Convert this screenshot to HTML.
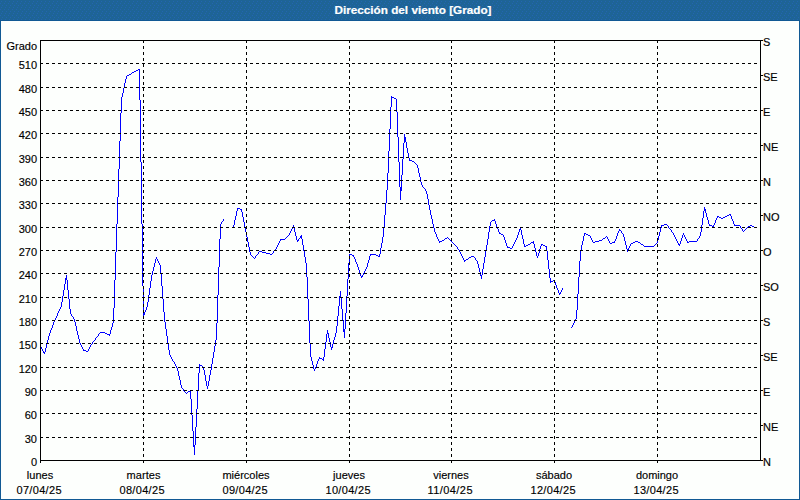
<!DOCTYPE html>
<html><head><meta charset="utf-8"><title>Dirección del viento [Grado]</title>
<style>
html,body{margin:0;padding:0;background:#fff;}
body{width:800px;height:500px;overflow:hidden;font-family:"Liberation Sans",sans-serif;}
svg{display:block;}
text{font-family:"Liberation Sans",sans-serif;font-size:11px;fill:#000;stroke:#000;stroke-width:0.15px;}
.t{font-weight:bold;fill:#fff;stroke:#fff;stroke-width:0.2px;}
</style></head><body>
<svg width="800" height="500" viewBox="0 0 800 500">
<defs><pattern id="dz" width="4" height="6" patternUnits="userSpaceOnUse"><rect width="4" height="6" fill="#1E6496"/><rect x="1" y="1" width="1" height="1" fill="#2365B1"/><rect x="0" y="3" width="1" height="1" fill="#2365B1"/><rect x="2" y="5" width="1" height="1" fill="#2365B1"/></pattern></defs>
<rect x="0" y="0" width="800" height="500" fill="#115994"/>
<rect x="0" y="0" width="800" height="20" fill="url(#dz)" shape-rendering="crispEdges"/>
<rect x="1" y="21" width="798" height="478" fill="#FDFFFD"/>
<text class="t" x="334.5" y="14" textLength="157" lengthAdjust="spacingAndGlyphs">Dirección del viento [Grado]</text>
<g shape-rendering="crispEdges" fill="#0000FF" stroke="none">
<path d="M40 346h1v1h-1zM41 347h1v2h-1zM42 349h1v2h-1zM43 351h1v2h-1zM44 352h1v2h-1zM45 348h1v4h-1zM46 344h1v4h-1zM47 340h1v4h-1zM48 336h1v4h-1zM49 333h1v3h-1zM50 330h1v3h-1zM51 328h1v2h-1zM52 325h1v3h-1zM53 322h1v3h-1zM54 320h1v2h-1zM55 318h1v2h-1zM56 316h1v2h-1zM57 313h1v3h-1zM58 311h1v2h-1zM59 309h1v2h-1zM60 307h1v2h-1zM61 302h1v5h-1zM62 296h1v6h-1zM63 290h1v6h-1zM64 284h1v6h-1zM65 278h1v6h-1zM66 275h1v5h-1zM67 280h1v10h-1zM68 290h1v9h-1zM69 299h1v10h-1zM70 309h1v5h-1zM71 314h1v2h-1zM72 316h1v1h-1zM73 317h1v2h-1zM74 319h1v3h-1zM75 322h1v4h-1zM76 326h1v5h-1zM77 331h1v4h-1zM78 335h1v4h-1zM79 339h1v4h-1zM80 343h1v2h-1zM81 345h1v2h-1zM82 347h1v2h-1zM83 349h1v2h-1zM84 350h1v1h-1zM85 350h1v1h-1zM86 351h1v1h-1zM87 351h1v1h-1zM88 349h1v2h-1zM89 347h1v2h-1zM90 345h1v2h-1zM91 344h1v1h-1zM92 342h1v2h-1zM93 341h1v1h-1zM94 340h1v1h-1zM95 338h1v2h-1zM96 337h1v1h-1zM97 336h1v1h-1zM98 334h1v2h-1zM99 333h1v1h-1zM100 332h1v1h-1zM101 332h1v1h-1zM102 332h1v1h-1zM103 332h1v1h-1zM104 332h1v1h-1zM105 333h1v1h-1zM106 333h1v1h-1zM107 334h1v1h-1zM108 334h1v1h-1zM109 334h1v2h-1zM110 330h1v4h-1zM111 327h1v3h-1zM112 323h1v4h-1zM113 308h1v15h-1zM114 280h1v28h-1zM115 252h1v28h-1zM116 224h1v28h-1zM117 197h1v27h-1zM118 169h1v28h-1zM119 141h1v28h-1zM120 113h1v28h-1zM121 97h1v16h-1zM122 93h1v4h-1zM123 88h1v5h-1zM124 83h1v5h-1zM125 79h1v4h-1zM126 76h1v3h-1zM127 75h1v1h-1zM128 75h1v1h-1zM129 74h1v1h-1zM130 74h1v1h-1zM131 73h1v1h-1zM132 72h1v1h-1zM133 72h1v1h-1zM134 71h1v1h-1zM135 71h1v1h-1zM136 70h1v1h-1zM137 70h1v1h-1zM138 69h1v1h-1zM139 69h1v31h-1zM140 100h1v62h-1zM141 162h1v62h-1zM142 224h1v62h-1zM143 286h1v31h-1zM144 312h1v3h-1zM145 310h1v2h-1zM146 307h1v3h-1zM147 302h1v5h-1zM148 295h1v7h-1zM149 288h1v7h-1zM150 281h1v7h-1zM151 275h1v6h-1zM152 271h1v4h-1zM153 267h1v4h-1zM154 263h1v4h-1zM155 259h1v4h-1zM156 257h1v2h-1zM157 259h1v2h-1zM158 261h1v2h-1zM159 263h1v2h-1zM160 265h1v8h-1zM161 273h1v13h-1zM162 286h1v13h-1zM163 299h1v13h-1zM164 312h1v10h-1zM165 322h1v7h-1zM166 329h1v7h-1zM167 336h1v7h-1zM168 343h1v7h-1zM169 350h1v5h-1zM170 355h1v2h-1zM171 357h1v2h-1zM172 359h1v2h-1zM173 361h1v1h-1zM174 362h1v2h-1zM175 364h1v2h-1zM176 366h1v2h-1zM177 368h1v3h-1zM178 371h1v5h-1zM179 376h1v4h-1zM180 380h1v5h-1zM181 385h1v3h-1zM182 388h1v1h-1zM183 389h1v2h-1zM184 391h1v1h-1zM185 392h1v1h-1zM186 393h1v1h-1zM187 392h1v1h-1zM188 391h1v1h-1zM189 391h1v1h-1zM190 390h1v9h-1zM191 399h1v16h-1zM192 415h1v16h-1zM193 431h1v16h-1zM194 445h1v10h-1zM195 427h1v18h-1zM196 409h1v18h-1zM197 391h1v18h-1zM198 373h1v18h-1zM199 364h1v9h-1zM200 365h1v1h-1zM201 365h1v1h-1zM202 366h1v1h-1zM203 367h1v3h-1zM204 370h1v5h-1zM205 375h1v6h-1zM206 381h1v5h-1zM207 386h1v3h-1zM208 381h1v5h-1zM209 375h1v6h-1zM210 370h1v5h-1zM211 364h1v6h-1zM212 358h1v6h-1zM213 352h1v6h-1zM214 346h1v6h-1zM215 340h1v6h-1zM216 323h1v17h-1zM217 295h1v28h-1zM218 267h1v28h-1zM219 239h1v28h-1zM220 224h1v15h-1zM221 222h1v2h-1zM222 221h1v1h-1zM223 219h1v2h-1zM233 225h1v3h-1zM234 220h1v5h-1zM235 216h1v4h-1zM236 211h1v5h-1zM237 208h1v3h-1zM238 208h1v1h-1zM239 208h1v1h-1zM240 209h1v1h-1zM241 209h1v3h-1zM242 212h1v5h-1zM243 217h1v5h-1zM244 222h1v5h-1zM245 227h1v5h-1zM246 232h1v5h-1zM247 237h1v5h-1zM248 242h1v5h-1zM249 247h1v5h-1zM250 252h1v3h-1zM251 255h1v1h-1zM252 256h1v1h-1zM253 257h1v1h-1zM254 258h1v1h-1zM255 256h1v2h-1zM256 255h1v1h-1zM257 254h1v1h-1zM258 252h1v2h-1zM259 251h1v1h-1zM260 251h1v1h-1zM261 251h1v1h-1zM262 252h1v1h-1zM263 252h1v1h-1zM264 252h1v1h-1zM265 252h1v1h-1zM266 253h1v1h-1zM267 253h1v1h-1zM268 253h1v1h-1zM269 253h1v1h-1zM270 254h1v1h-1zM271 254h1v1h-1zM272 253h1v1h-1zM273 251h1v2h-1zM274 250h1v1h-1zM275 249h1v1h-1zM276 247h1v2h-1zM277 245h1v2h-1zM278 243h1v2h-1zM279 241h1v2h-1zM280 239h1v2h-1zM281 239h1v1h-1zM282 239h1v1h-1zM283 239h1v1h-1zM284 239h1v1h-1zM285 238h1v1h-1zM286 237h1v1h-1zM287 236h1v1h-1zM288 235h1v1h-1zM289 233h1v2h-1zM290 231h1v2h-1zM291 229h1v2h-1zM292 227h1v2h-1zM293 225h1v3h-1zM294 228h1v4h-1zM295 232h1v4h-1zM296 236h1v4h-1zM297 240h1v2h-1zM298 239h1v2h-1zM299 238h1v1h-1zM300 236h1v2h-1zM301 235h1v4h-1zM302 239h1v6h-1zM303 245h1v6h-1zM304 251h1v6h-1zM305 257h1v6h-1zM306 263h1v14h-1zM307 277h1v22h-1zM308 299h1v22h-1zM309 321h1v22h-1zM310 343h1v14h-1zM311 357h1v4h-1zM312 361h1v4h-1zM313 365h1v4h-1zM314 369h1v2h-1zM315 367h1v2h-1zM316 364h1v3h-1zM317 361h1v3h-1zM318 359h1v2h-1zM319 357h1v2h-1zM320 358h1v1h-1zM321 358h1v1h-1zM322 359h1v1h-1zM323 357h1v4h-1zM324 349h1v8h-1zM325 342h1v7h-1zM326 334h1v8h-1zM327 330h1v4h-1zM328 333h1v5h-1zM329 338h1v4h-1zM330 342h1v5h-1zM331 347h1v3h-1zM332 344h1v4h-1zM333 340h1v4h-1zM334 337h1v3h-1zM335 333h1v4h-1zM336 326h1v7h-1zM337 316h1v10h-1zM338 306h1v10h-1zM339 296h1v10h-1zM340 291h1v6h-1zM341 297h1v12h-1zM342 309h1v11h-1zM343 320h1v12h-1zM344 329h1v9h-1zM345 313h1v16h-1zM346 296h1v17h-1zM347 279h1v17h-1zM348 263h1v16h-1zM349 254h1v9h-1zM350 254h1v1h-1zM351 254h1v1h-1zM352 255h1v1h-1zM353 255h1v2h-1zM354 257h1v2h-1zM355 259h1v3h-1zM356 262h1v2h-1zM357 264h1v3h-1zM358 267h1v3h-1zM359 270h1v3h-1zM360 273h1v3h-1zM361 276h1v2h-1zM362 275h1v2h-1zM363 273h1v2h-1zM364 271h1v2h-1zM365 269h1v2h-1zM366 267h1v2h-1zM367 263h1v4h-1zM368 260h1v3h-1zM369 256h1v4h-1zM370 254h1v2h-1zM371 254h1v1h-1zM372 254h1v1h-1zM373 254h1v1h-1zM374 254h1v1h-1zM375 254h1v1h-1zM376 255h1v1h-1zM377 255h1v1h-1zM378 256h1v1h-1zM379 254h1v3h-1zM380 248h1v6h-1zM381 243h1v5h-1zM382 237h1v6h-1zM383 228h1v9h-1zM384 215h1v13h-1zM385 203h1v12h-1zM386 190h1v13h-1zM387 173h1v17h-1zM388 151h1v22h-1zM389 129h1v22h-1zM390 107h1v22h-1zM391 96h1v11h-1zM392 97h1v1h-1zM393 97h1v1h-1zM394 98h1v1h-1zM395 98h1v1h-1zM396 99h1v13h-1zM397 112h1v25h-1zM398 137h1v25h-1zM399 162h1v25h-1zM400 187h1v13h-1zM401 175h1v16h-1zM402 159h1v16h-1zM403 143h1v16h-1zM404 134h1v9h-1zM405 137h1v5h-1zM406 142h1v6h-1zM407 148h1v5h-1zM408 153h1v5h-1zM409 158h1v3h-1zM410 160h1v1h-1zM411 160h1v1h-1zM412 161h1v1h-1zM413 161h1v1h-1zM414 162h1v1h-1zM415 163h1v1h-1zM416 164h1v1h-1zM417 165h1v3h-1zM418 168h1v5h-1zM419 173h1v4h-1zM420 177h1v5h-1zM421 182h1v3h-1zM422 185h1v2h-1zM423 187h1v1h-1zM424 188h1v1h-1zM425 189h1v2h-1zM426 191h1v3h-1zM427 194h1v5h-1zM428 199h1v6h-1zM429 205h1v5h-1zM430 210h1v5h-1zM431 215h1v4h-1zM432 219h1v5h-1zM433 224h1v4h-1zM434 228h1v4h-1zM435 232h1v2h-1zM436 234h1v3h-1zM437 237h1v2h-1zM438 239h1v2h-1zM439 241h1v2h-1zM440 241h1v1h-1zM441 241h1v1h-1zM442 240h1v1h-1zM443 240h1v1h-1zM444 239h1v1h-1zM445 238h1v1h-1zM446 238h1v1h-1zM447 237h1v1h-1zM448 238h1v1h-1zM449 239h1v1h-1zM450 240h1v1h-1zM451 241h1v1h-1zM452 242h1v1h-1zM453 243h1v1h-1zM454 244h1v1h-1zM455 245h1v1h-1zM456 246h1v1h-1zM457 247h1v2h-1zM458 249h1v1h-1zM459 250h1v2h-1zM460 252h1v2h-1zM461 254h1v2h-1zM462 256h1v2h-1zM463 258h1v2h-1zM464 260h1v2h-1zM465 260h1v1h-1zM466 259h1v1h-1zM467 259h1v1h-1zM468 258h1v1h-1zM469 257h1v1h-1zM470 257h1v1h-1zM471 256h1v1h-1zM472 256h1v1h-1zM473 256h1v1h-1zM474 257h1v1h-1zM475 258h1v2h-1zM476 260h1v1h-1zM477 261h1v3h-1zM478 264h1v4h-1zM479 268h1v4h-1zM480 272h1v4h-1zM481 275h1v4h-1zM482 269h1v6h-1zM483 263h1v6h-1zM484 257h1v6h-1zM485 251h1v6h-1zM486 245h1v6h-1zM487 239h1v6h-1zM488 232h1v7h-1zM489 226h1v6h-1zM490 222h1v4h-1zM491 221h1v1h-1zM492 220h1v1h-1zM493 220h1v1h-1zM494 219h1v2h-1zM495 221h1v3h-1zM496 224h1v3h-1zM497 227h1v2h-1zM498 229h1v3h-1zM499 232h1v2h-1zM500 233h1v1h-1zM501 234h1v1h-1zM502 234h1v1h-1zM503 235h1v2h-1zM504 237h1v3h-1zM505 240h1v3h-1zM506 243h1v3h-1zM507 246h1v2h-1zM508 247h1v1h-1zM509 247h1v1h-1zM510 248h1v1h-1zM511 248h1v1h-1zM512 246h1v2h-1zM513 244h1v2h-1zM514 242h1v2h-1zM515 240h1v2h-1zM516 238h1v2h-1zM517 235h1v3h-1zM518 232h1v3h-1zM519 229h1v3h-1zM520 227h1v3h-1zM521 230h1v5h-1zM522 235h1v4h-1zM523 239h1v5h-1zM524 244h1v3h-1zM525 246h1v1h-1zM526 245h1v1h-1zM527 245h1v1h-1zM528 244h1v1h-1zM529 244h1v1h-1zM530 243h1v1h-1zM531 242h1v1h-1zM532 242h1v1h-1zM533 241h1v3h-1zM534 244h1v4h-1zM535 248h1v4h-1zM536 252h1v4h-1zM537 256h1v2h-1zM538 253h1v3h-1zM539 249h1v4h-1zM540 246h1v3h-1zM541 244h1v2h-1zM542 244h1v1h-1zM543 245h1v1h-1zM544 245h1v1h-1zM545 246h1v1h-1zM546 246h1v5h-1zM547 251h1v9h-1zM548 260h1v9h-1zM549 269h1v9h-1zM550 278h1v5h-1zM551 281h1v1h-1zM552 281h1v1h-1zM553 280h1v1h-1zM554 280h1v2h-1zM555 282h1v3h-1zM556 285h1v3h-1zM557 288h1v2h-1zM558 290h1v3h-1zM559 293h1v2h-1zM560 292h1v2h-1zM561 290h1v2h-1zM562 288h1v2h-1zM571 327h1v1h-1zM572 325h1v2h-1zM573 323h1v2h-1zM574 321h1v2h-1zM575 319h1v2h-1zM576 310h1v9h-1zM577 294h1v16h-1zM578 277h1v17h-1zM579 261h1v16h-1zM580 250h1v11h-1zM581 245h1v5h-1zM582 241h1v4h-1zM583 236h1v5h-1zM584 233h1v3h-1zM585 233h1v1h-1zM586 234h1v1h-1zM587 234h1v1h-1zM588 235h1v1h-1zM589 235h1v1h-1zM590 236h1v2h-1zM591 238h1v2h-1zM592 240h1v2h-1zM593 242h1v1h-1zM594 242h1v1h-1zM595 241h1v1h-1zM596 241h1v1h-1zM597 241h1v1h-1zM598 241h1v1h-1zM599 240h1v1h-1zM600 240h1v1h-1zM601 240h1v1h-1zM602 239h1v1h-1zM603 238h1v1h-1zM604 238h1v1h-1zM605 237h1v1h-1zM606 236h1v1h-1zM607 237h1v2h-1zM608 239h1v2h-1zM609 241h1v2h-1zM610 243h1v1h-1zM611 243h1v1h-1zM612 242h1v1h-1zM613 242h1v1h-1zM614 241h1v2h-1zM615 239h1v2h-1zM616 236h1v3h-1zM617 233h1v3h-1zM618 231h1v2h-1zM619 229h1v2h-1zM620 230h1v1h-1zM621 231h1v2h-1zM622 233h1v1h-1zM623 234h1v3h-1zM624 237h1v4h-1zM625 241h1v4h-1zM626 245h1v4h-1zM627 249h1v3h-1zM628 248h1v2h-1zM629 246h1v2h-1zM630 244h1v2h-1zM631 243h1v1h-1zM632 243h1v1h-1zM633 242h1v1h-1zM634 242h1v1h-1zM635 241h1v1h-1zM636 241h1v1h-1zM637 241h1v1h-1zM638 242h1v1h-1zM639 242h1v1h-1zM640 243h1v1h-1zM641 244h1v1h-1zM642 244h1v1h-1zM643 245h1v1h-1zM644 246h1v1h-1zM645 246h1v1h-1zM646 246h1v1h-1zM647 246h1v1h-1zM648 246h1v1h-1zM649 246h1v1h-1zM650 246h1v1h-1zM651 246h1v1h-1zM652 246h1v1h-1zM653 246h1v1h-1zM654 245h1v1h-1zM655 244h1v1h-1zM656 243h1v1h-1zM657 240h1v3h-1zM658 236h1v4h-1zM659 232h1v4h-1zM660 228h1v4h-1zM661 225h1v3h-1zM662 225h1v1h-1zM663 225h1v1h-1zM664 224h1v1h-1zM665 224h1v1h-1zM666 224h1v1h-1zM667 225h1v1h-1zM668 226h1v2h-1zM669 228h1v1h-1zM670 229h1v1h-1zM671 230h1v2h-1zM672 232h1v1h-1zM673 233h1v2h-1zM674 235h1v2h-1zM675 237h1v2h-1zM676 239h1v2h-1zM677 241h1v2h-1zM678 243h1v2h-1zM679 244h1v2h-1zM680 241h1v3h-1zM681 238h1v3h-1zM682 235h1v3h-1zM683 233h1v2h-1zM684 235h1v2h-1zM685 237h1v2h-1zM686 239h1v2h-1zM687 241h1v2h-1zM688 242h1v1h-1zM689 241h1v1h-1zM690 241h1v1h-1zM691 241h1v1h-1zM692 241h1v1h-1zM693 241h1v1h-1zM694 241h1v1h-1zM695 241h1v1h-1zM696 241h1v1h-1zM697 239h1v2h-1zM698 238h1v1h-1zM699 236h1v2h-1zM700 232h1v4h-1zM701 225h1v7h-1zM702 218h1v7h-1zM703 211h1v7h-1zM704 207h1v4h-1zM705 209h1v4h-1zM706 213h1v4h-1zM707 217h1v3h-1zM708 220h1v4h-1zM709 224h1v2h-1zM710 225h1v1h-1zM711 225h1v1h-1zM712 226h1v1h-1zM713 225h1v2h-1zM714 223h1v2h-1zM715 220h1v3h-1zM716 218h1v2h-1zM717 216h1v2h-1zM718 216h1v1h-1zM719 217h1v1h-1zM720 217h1v1h-1zM721 218h1v1h-1zM722 218h1v1h-1zM723 217h1v1h-1zM724 217h1v1h-1zM725 216h1v1h-1zM726 216h1v1h-1zM727 215h1v1h-1zM728 215h1v1h-1zM729 214h1v1h-1zM730 214h1v2h-1zM731 216h1v3h-1zM732 219h1v2h-1zM733 221h1v3h-1zM734 224h1v2h-1zM735 225h1v1h-1zM736 225h1v1h-1zM737 225h1v1h-1zM738 225h1v1h-1zM739 225h1v1h-1zM740 226h1v2h-1zM741 228h1v1h-1zM742 229h1v2h-1zM743 231h1v1h-1zM744 230h1v1h-1zM745 229h1v1h-1zM746 228h1v1h-1zM747 227h1v1h-1zM748 226h1v1h-1zM749 226h1v1h-1zM750 225h1v1h-1zM751 225h1v1h-1zM752 226h1v1h-1zM753 226h1v1h-1zM754 227h1v1h-1zM755 227h1v1h-1z"/>
</g>
<g shape-rendering="crispEdges" stroke="#000" stroke-width="1" fill="none">
<g stroke-dasharray="3,3">
<line x1="40" y1="437.5" x2="760" y2="437.5"/>
<line x1="40" y1="413.5" x2="760" y2="413.5"/>
<line x1="40" y1="390.5" x2="760" y2="390.5"/>
<line x1="40" y1="367.5" x2="760" y2="367.5"/>
<line x1="40" y1="343.5" x2="760" y2="343.5"/>
<line x1="40" y1="320.5" x2="760" y2="320.5"/>
<line x1="40" y1="297.5" x2="760" y2="297.5"/>
<line x1="40" y1="273.5" x2="760" y2="273.5"/>
<line x1="40" y1="250.5" x2="760" y2="250.5"/>
<line x1="40" y1="227.5" x2="760" y2="227.5"/>
<line x1="40" y1="203.5" x2="760" y2="203.5"/>
<line x1="40" y1="180.5" x2="760" y2="180.5"/>
<line x1="40" y1="157.5" x2="760" y2="157.5"/>
<line x1="40" y1="133.5" x2="760" y2="133.5"/>
<line x1="40" y1="110.5" x2="760" y2="110.5"/>
<line x1="40" y1="87.5" x2="760" y2="87.5"/>
<line x1="40" y1="63.5" x2="760" y2="63.5"/>
<line x1="143.5" y1="40" x2="143.5" y2="460"/>
<line x1="246.5" y1="40" x2="246.5" y2="460"/>
<line x1="349.5" y1="40" x2="349.5" y2="460"/>
<line x1="451.5" y1="40" x2="451.5" y2="460"/>
<line x1="554.5" y1="40" x2="554.5" y2="460"/>
<line x1="657.5" y1="40" x2="657.5" y2="460"/>
</g>
<rect x="40.5" y="40.5" width="720" height="420"/>
<line x1="40.5" y1="460" x2="40.5" y2="463"/>
<line x1="143.5" y1="460" x2="143.5" y2="463"/>
<line x1="246.5" y1="460" x2="246.5" y2="463"/>
<line x1="349.5" y1="460" x2="349.5" y2="463"/>
<line x1="451.5" y1="460" x2="451.5" y2="463"/>
<line x1="554.5" y1="460" x2="554.5" y2="463"/>
<line x1="657.5" y1="460" x2="657.5" y2="463"/>
<line x1="760" y1="40.5" x2="763" y2="40.5"/>
<line x1="760" y1="75.5" x2="763" y2="75.5"/>
<line x1="760" y1="110.5" x2="763" y2="110.5"/>
<line x1="760" y1="145.5" x2="763" y2="145.5"/>
<line x1="760" y1="180.5" x2="763" y2="180.5"/>
<line x1="760" y1="215.5" x2="763" y2="215.5"/>
<line x1="760" y1="250.5" x2="763" y2="250.5"/>
<line x1="760" y1="285.5" x2="763" y2="285.5"/>
<line x1="760" y1="320.5" x2="763" y2="320.5"/>
<line x1="760" y1="355.5" x2="763" y2="355.5"/>
<line x1="760" y1="390.5" x2="763" y2="390.5"/>
<line x1="760" y1="425.5" x2="763" y2="425.5"/>
<line x1="760" y1="460.5" x2="763" y2="460.5"/>
</g>
<text x="37" y="50" text-anchor="end">Grado</text>
<text x="37" y="466" text-anchor="end">0</text>
<text x="37" y="443" text-anchor="end">30</text>
<text x="37" y="419" text-anchor="end">60</text>
<text x="37" y="396" text-anchor="end">90</text>
<text x="37" y="373" text-anchor="end">120</text>
<text x="37" y="349" text-anchor="end">150</text>
<text x="37" y="326" text-anchor="end">180</text>
<text x="37" y="303" text-anchor="end">210</text>
<text x="37" y="279" text-anchor="end">240</text>
<text x="37" y="256" text-anchor="end">270</text>
<text x="37" y="233" text-anchor="end">300</text>
<text x="37" y="209" text-anchor="end">330</text>
<text x="37" y="186" text-anchor="end">360</text>
<text x="37" y="163" text-anchor="end">390</text>
<text x="37" y="139" text-anchor="end">420</text>
<text x="37" y="116" text-anchor="end">450</text>
<text x="37" y="93" text-anchor="end">480</text>
<text x="37" y="69" text-anchor="end">510</text>
<text x="763" y="46">S</text>
<text x="763" y="81">SE</text>
<text x="763" y="116">E</text>
<text x="763" y="151">NE</text>
<text x="763" y="186">N</text>
<text x="763" y="221">NO</text>
<text x="763" y="256">O</text>
<text x="763" y="291">SO</text>
<text x="763" y="326">S</text>
<text x="763" y="361">SE</text>
<text x="763" y="396">E</text>
<text x="763" y="431">NE</text>
<text x="763" y="466">N</text>
<text x="40.0" y="479" text-anchor="middle">lunes</text>
<text x="16.5" y="494" textLength="45" lengthAdjust="spacing">07/04/25</text>
<text x="126.5" y="479" textLength="34" lengthAdjust="spacing">martes</text>
<text x="119.5" y="494" textLength="45" lengthAdjust="spacing">08/04/25</text>
<text x="246.0" y="479" text-anchor="middle">miércoles</text>
<text x="222.5" y="494" textLength="45" lengthAdjust="spacing">09/04/25</text>
<text x="349.0" y="479" text-anchor="middle">jueves</text>
<text x="325.5" y="494" textLength="45" lengthAdjust="spacing">10/04/25</text>
<text x="451.0" y="479" text-anchor="middle">viernes</text>
<text x="427.5" y="494" textLength="45" lengthAdjust="spacing">11/04/25</text>
<text x="554.0" y="479" text-anchor="middle">sábado</text>
<text x="530.5" y="494" textLength="45" lengthAdjust="spacing">12/04/25</text>
<text x="657.0" y="479" text-anchor="middle">domingo</text>
<text x="633.5" y="494" textLength="45" lengthAdjust="spacing">13/04/25</text>
</svg>
</body></html>
